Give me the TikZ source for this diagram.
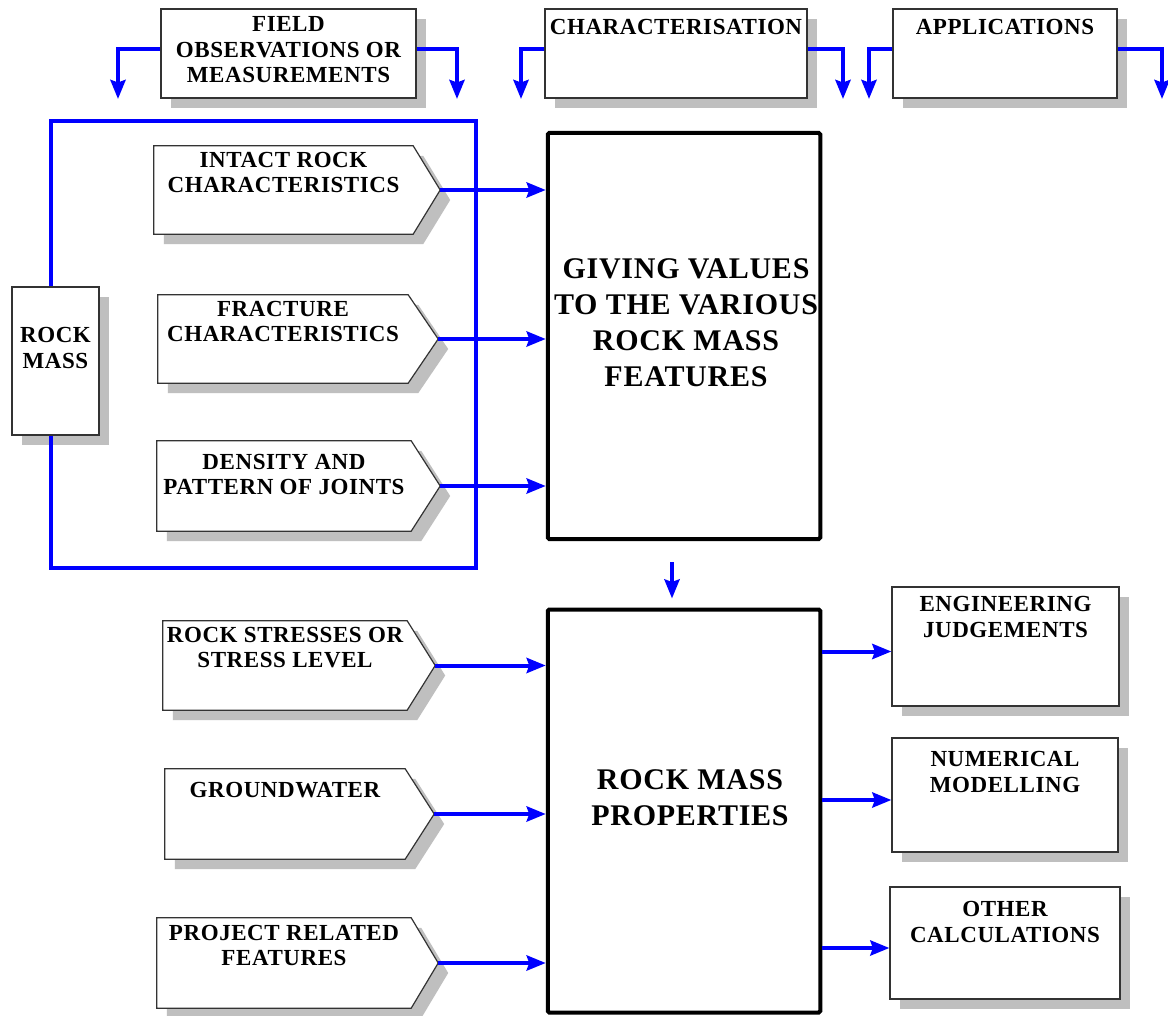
\documentclass[tikz,border=0pt]{standalone}
\usepackage{fontspec}
\setmainfont{Liberation Serif}
\newfontfamily\spacedserif[LetterSpace=2.5]{Liberation Serif}
\usetikzlibrary{arrows.meta,calc,shadows}

\tikzset{
  boxshadow/.style={drop shadow={shadow xshift=10pt,shadow yshift=-10pt,fill=black!25,opacity=1}},
  panel/.style={rectangle, draw=black!80, line width=1.2pt, fill=white, boxshadow, inner sep=0pt},
  pentbody/.style={rectangle, inner sep=0pt},
  pentoutline/.style={draw=black!80, line width=1.2pt, fill=white, boxshadow, line join=miter},
  stage/.style={rectangle, draw=black, line width=4pt, rounded corners=1.5pt, fill=white, inner sep=0pt},
  lbl/.style={font=\spacedserif\fontsize{23}{25.5}\selectfont\bfseries, align=center, inner sep=0pt, anchor=north},
  biglbl/.style={font=\spacedserif\fontsize{30}{36}\selectfont\bfseries, align=center, inner sep=0pt},
  flow/.style={draw=blue, line width=4pt, line join=miter},
  arr/.style={flow, -{Stealth[length=19pt,width=15pt,inset=2.5pt]}},
}

% pentagon pointing right: name, centre x, centre y, body width, height, point length
\newcommand\pentbox[6]{%
  \node[pentbody, minimum width=#4pt, minimum height=#5pt] (#1) at (#2,#3) {};
  \coordinate (#1-tip) at ($(#1.east)+(#6,0)$);
  \path[pentoutline] (#1.north west) -- (#1.north east) -- (#1-tip)
        -- (#1.south east) -- (#1.south west) -- cycle;
}

\begin{document}
\begin{tikzpicture}[x=1pt,y=-1pt]
\fill[white] (0,0) rectangle (1168,1016);
\useasboundingbox (0,0) rectangle (1168,1016);

% top row of headings
\node[panel, minimum width=255pt, minimum height=89pt] (fo) at (288.5,53.5) {};
\node[lbl] (fo-t) at ([yshift=-8pt]fo.north) {FIELD\\OBSERVATIONS OR\\MEASUREMENTS};
\node[panel, minimum width=262pt, minimum height=89pt] (ch) at (676,53.5) {};
\node[lbl] (ch-t) at ([yshift=-11pt]ch.north) {CHARACTERISATION};
\node[panel, minimum width=224pt, minimum height=89pt] (ap) at (1005,53.5) {};
\node[lbl] (ap-t) at ([yshift=-11pt]ap.north) {APPLICATIONS};

% rock mass
\node[panel, minimum width=87pt, minimum height=148pt] (rm) at (55.5,361) {};
\node[lbl] (rm-t) at ([yshift=-41pt]rm.north) {ROCK\\MASS};

% input features
\pentbox{ir}{283.5}{190}{259}{88}{27}
\node[lbl] (ir-t) at ([yshift=-6pt]ir.north) {INTACT ROCK\\CHARACTERISTICS};
\pentbox{fr}{283}{339}{250}{88}{30}
\node[lbl] (fr-t) at ([yshift=-6pt]fr.north) {FRACTURE\\CHARACTERISTICS};
\pentbox{dp}{284}{486}{254}{90}{29}
\node[lbl] (dp-t) at ([yshift=-13pt]dp.north) {DENSITY AND\\PATTERN OF JOINTS};
\pentbox{rs}{285}{665.5}{244}{89}{28}
\node[lbl] (rs-t) at ([yshift=-6pt]rs.north) {ROCK STRESSES OR\\STRESS LEVEL};
\pentbox{gw}{285}{814}{240}{90}{29}
\node[lbl] (gw-t) at ([yshift=-13pt]gw.north) {GROUNDWATER};
\pentbox{pr}{284}{963}{254}{90}{27}
\node[lbl] (pr-t) at ([yshift=-7pt]pr.north) {PROJECT RELATED\\FEATURES};

% central stages
\node[stage, minimum width=272.5pt, minimum height=406pt] (gv) at (684,336) {};
\node[biglbl] (gv-t) at (686,323) {GIVING VALUES\\TO THE VARIOUS\\ROCK MASS\\FEATURES};
\node[stage, minimum width=272.5pt, minimum height=403pt] (rp) at (684,811) {};
\node[biglbl] (rp-t) at (690,798) {ROCK MASS\\PROPERTIES};

% applications
\node[panel, minimum width=227pt, minimum height=119pt] (ej) at (1005.5,646.5) {};
\node[lbl] (ej-t) at ([yshift=-10pt]ej.north) {ENGINEERING\\JUDGEMENTS};
\node[panel, minimum width=226pt, minimum height=114pt] (nm) at (1005,795) {};
\node[lbl] (nm-t) at ([yshift=-14pt]nm.north) {NUMERICAL\\MODELLING};
\node[panel, minimum width=230pt, minimum height=112pt] (oc) at (1005,943) {};
\node[lbl] (oc-t) at ([yshift=-15pt]oc.north) {OTHER\\CALCULATIONS};

% downward arrows from the headings
\coordinate (fo-l) at (118,99);
\coordinate (fo-r) at (457,99);
\coordinate (ch-l) at (521,99);
\coordinate (ch-r) at (843,99);
\coordinate (ap-l) at (869,99);
\coordinate (ap-r) at (1162,99);
\foreach \n in {fo,ch,ap}{
  \draw[arr] ([yshift=4.5pt]\n.west) -| (\n-l);
  \draw[arr] ([yshift=4.5pt]\n.east) -| (\n-r);
}

% frame around the rock mass features
\coordinate (f-tl) at (51,121);
\coordinate (f-tr) at (476,121);
\coordinate (f-br) at (476,568);
\coordinate (f-bl) at (51,568);
\draw[flow] ([xshift=-4.5pt]rm.north) -- (f-tl) -- (f-tr) -- (f-br) -- (f-bl)
            -- ([xshift=-4.5pt]rm.south);

% features into the stages
\foreach \n in {ir,fr,dp}{
  \draw[arr] (\n-tip) -- (\n-tip -| gv.west);
}
\foreach \n in {rs,gw,pr}{
  \draw[arr] (\n-tip) -- (\n-tip -| rp.west);
}
\draw[arr] ([xshift=-12pt,yshift=-21pt]gv.south) -- ([xshift=-12pt,yshift=9pt]rp.north);

% properties into applications
\foreach \n in {ej,nm,oc}{
  \coordinate (\n-in) at ($(\n.west)+(0,5)$);
  \draw[arr] (\n-in -| rp.east) -- (\n-in);
}
\end{tikzpicture}
\end{document}
